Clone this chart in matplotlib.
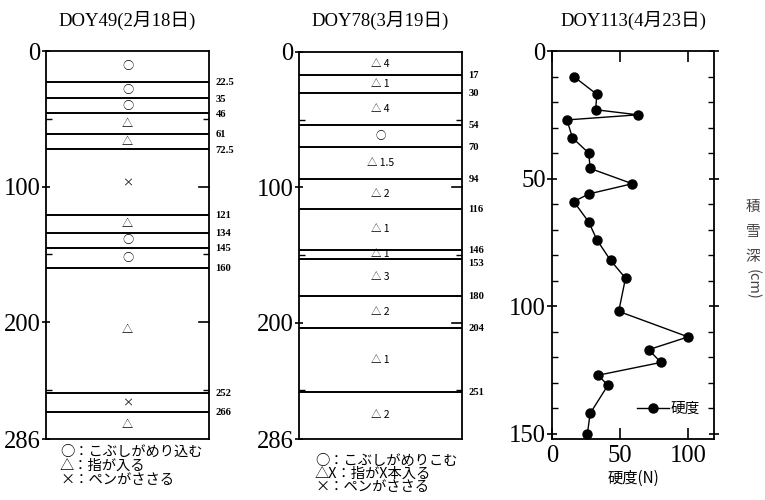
import matplotlib
matplotlib.use("Agg")
import matplotlib.pyplot as plt
from matplotlib.ticker import FixedLocator, MultipleLocator

# Snow pit layer boundaries (cm from surface) and hand-hardness symbols
total_depth = 286
doy49_bounds = [22.5, 35, 46, 61, 72.5, 121, 134, 145, 160, 252, 266]
doy49_marks = ["○", "○", "○", "△", "△", "×", "△", "○", "○", "△", "×", "△"]

doy78_bounds = [17, 30, 54, 70, 94, 116, 146, 153, 180, 204, 251]
doy78_marks = ["△ 4", "△ 1", "△ 4", "○", "△ 1.5", "△ 2", "△ 1", "△ 1",
               "△ 3", "△ 2", "△ 1", "△ 2"]

# Push-gauge hardness profile on DOY113
hard_depth = [10, 17, 23, 25, 27, 34, 40, 46, 52, 56, 59, 67, 74, 82, 89,
              102, 112, 117, 122, 127, 131, 142, 150]
hardness = [16, 33, 32, 63, 11, 15, 27, 28, 59, 27, 16, 27, 33, 43, 54,
            49, 100, 71, 80, 34, 41, 28, 26]

titles = ["DOY49(2月18日)", "DOY78(3月19日)", "DOY113(4月23日)"]
legend1 = ["○：こぶしがめり込む", "△：指が入る", "×：ペンがささる"]
legend2 = ["○：こぶしがめりこむ", "△X：指がX本入る", "×：ペンがささる"]

SERIF = ["Liberation Serif", "Noto Sans CJK JP"]
CJK = ["Noto Sans CJK JP", "Liberation Serif"]
plt.rcParams["font.family"] = SERIF

W, H = 765, 500
fig = plt.figure(figsize=(W / 100, H / 100), dpi=100)


def px_axes(l, t, r, b):
    return fig.add_axes([l / W, 1 - b / H, (r - l) / W, (b - t) / H])


def layer_panel(ax, bounds, marks, fs_mark):
    ax.set_xlim(0, 1)
    ax.set_ylim(total_depth, 0)
    ax.set_xticks([])
    for s in ax.spines.values():
        s.set_linewidth(1.3)
    ax.yaxis.set_major_locator(FixedLocator([0, 100, 200, total_depth]))
    ax.yaxis.set_minor_locator(FixedLocator([50, 150, 250]))
    ax.tick_params(axis="y", which="major", direction="inout", length=6,
                   width=1.2, labelsize=17.7, pad=1)
    ax.tick_params(axis="y", which="minor", direction="in", length=4,
                   width=1.0, right=True)
    # inward major ticks on the right edge
    for v in [100, 200]:
        ax.plot([0.94, 1.0], [v, v], color="black", lw=1.2, clip_on=False)
    edges = [0] + bounds + [total_depth]
    for b in bounds:
        ax.axhline(b, color="black", lw=1.4)
    prev = -99
    for b in bounds:
        off = 3 if b - prev < 10 else 0.5
        ax.text(1.04, b + off, f"{b:g}", transform=ax.get_yaxis_transform(),
                ha="left", va="center", fontsize=7.6, fontweight="bold",
                family=SERIF)
        prev = b
    for (a, c), m in zip(zip(edges[:-1], edges[1:]), marks):
        ax.text(0.5, (a + c) / 2, m, ha="center", va="center",
                fontsize=fs_mark, family=CJK)


ax1 = px_axes(46, 51, 209, 439)
layer_panel(ax1, doy49_bounds, doy49_marks, 8)
ax2 = px_axes(299, 52, 462, 439)
layer_panel(ax2, doy78_bounds, doy78_marks, 7.5)

# Hardness profile
ax3 = px_axes(552, 51, 714, 439)
ax3.plot(hardness, hard_depth, color="black", lw=1.0, marker="o",
         markersize=6.5, label="硬度")
ax3.set_xlim(0, 119)
ax3.set_ylim(152, 0)
for s in ax3.spines.values():
    s.set_linewidth(1.3)
ax3.xaxis.set_major_locator(FixedLocator([0, 50, 100]))
ax3.yaxis.set_major_locator(FixedLocator([0, 50, 100, 150]))
ax3.yaxis.set_minor_locator(MultipleLocator(10))
ax3.tick_params(axis="x", which="major", direction="in", length=8, width=1.2,
                top=True, labelsize=17.7, pad=4)
ax3.tick_params(axis="y", which="major", direction="inout", length=7,
                width=1.2, right=True, labelsize=17.7, pad=1)
ax3.tick_params(axis="y", which="minor", direction="in", length=4,
                width=1.0, right=True)
ax3.set_xlabel("硬度(N)", fontsize=11, family=CJK, labelpad=2)
ax3.legend(loc="center left", bbox_to_anchor=(0.48, 0.077), frameon=False,
           handlelength=2.2, handletextpad=0.1, borderpad=0,
           prop={"family": CJK, "size": 10.5})

for ax, t in zip([ax1, ax2, ax3], titles):
    pos = ax.get_position()
    fig.text((pos.x0 + pos.x1) / 2, 1 - 20 / H, t, ha="center", va="center",
             fontsize=13.5, family=SERIF)

# Hardness-profile depth axis label, written vertically
lx = 753 / W
for i, ch in enumerate("積雪深"):
    fig.text(lx, 1 - (207 + i * 25) / H, ch, ha="center", va="center",
             fontsize=10.5, family=CJK, color="#444444")
fig.text(lx, 1 - 284 / H, "(cm)", ha="center", va="center", rotation=270,
         fontsize=10.5, family=CJK, color="#444444")

# Symbol keys below the layer columns
for i, line in enumerate(legend1):
    fig.text(60 / W, 1 - (452 + i * 14) / H, line, ha="left", va="center",
             fontsize=10.3, family=CJK)
for i, line in enumerate(legend2):
    fig.text(315 / W, 1 - (461 + i * 13) / H, line, ha="left", va="center",
             fontsize=10.3, family=CJK)

fig.savefig("out.png", dpi=100)
